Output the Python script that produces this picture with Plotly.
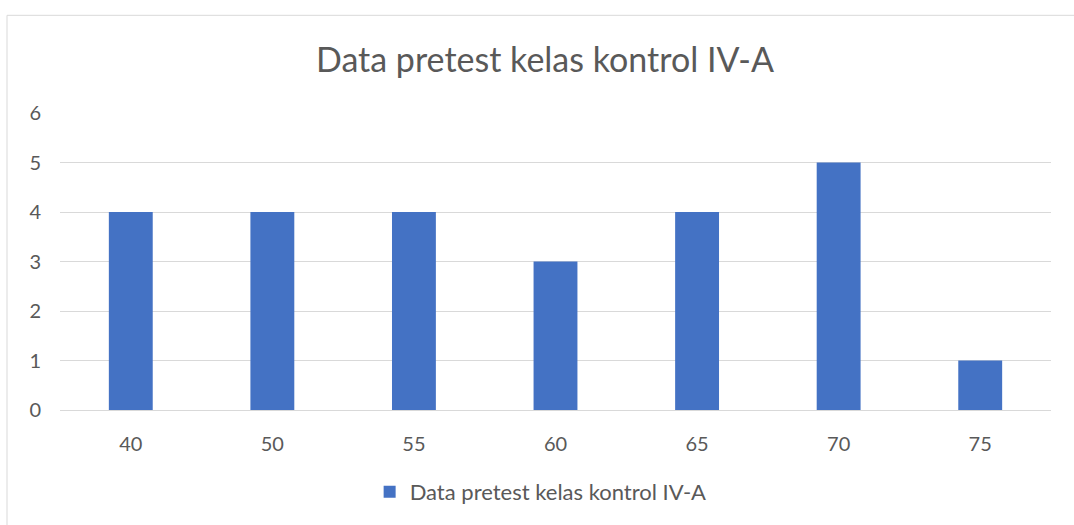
import plotly.graph_objects as go

categories = ["40", "50", "55", "60", "65", "70", "75"]
values = [4, 4, 4, 3, 4, 5, 1]
series_name = "Data pretest kelas kontrol IV-A"
title_text = "Data pretest kelas kontrol IV-A"

FONT = "Lato, 'Open Sans', sans-serif"
GRAY = "#595959"

fig = go.Figure()
fig.add_trace(go.Bar(x=categories, y=values, name=series_name,
                     marker=dict(color="#4472C4", line=dict(width=0)),
                     width=0.31))

W, H = 1074, 525
l, r, t, b = 60, 23, 113, 111
pw, ph = W - l - r, H - t - b

fig.update_layout(
    width=W, height=H,
    margin=dict(l=l, r=r, t=t, b=b),
    paper_bgcolor="white", plot_bgcolor="white",
    title=dict(text=title_text, x=(545) / W, xanchor="center",
               y=1 - 60 / H, yanchor="middle",
               font=dict(family=FONT, size=34, color=GRAY)),
    font=dict(family=FONT, size=20, color=GRAY),
    showlegend=True,
    legend=dict(orientation="h", x=0.485, xanchor="center",
                y=-(497 - 414) / ph, yanchor="middle",
                font=dict(family=FONT, size=22, color=GRAY)),
    xaxis=dict(showgrid=False, showline=True, linecolor="#d9d9d9", linewidth=1,
               ticks="", tickfont=dict(size=20, color=GRAY), ticklabelstandoff=16),
    yaxis=dict(range=[0, 6], dtick=1, showgrid=True, gridcolor="#d9d9d9",
               gridwidth=1, zeroline=False, showline=False, ticks="",
               tickfont=dict(size=20, color=GRAY), ticklabelstandoff=18),
    bargap=0.69,
)

fig.add_shape(type="rect", xref="paper", yref="paper",
              x0=(7 - l) / pw, x1=1.2, y0=-0.6, y1=(H - b - 14) / ph,
              line=dict(color="#d9d9d9", width=1), fillcolor="rgba(0,0,0,0)",
              layer="below")

fig.write_html("out.html", config={"displayModeBar": False},
               post_script="document.body.style.margin='0';")
